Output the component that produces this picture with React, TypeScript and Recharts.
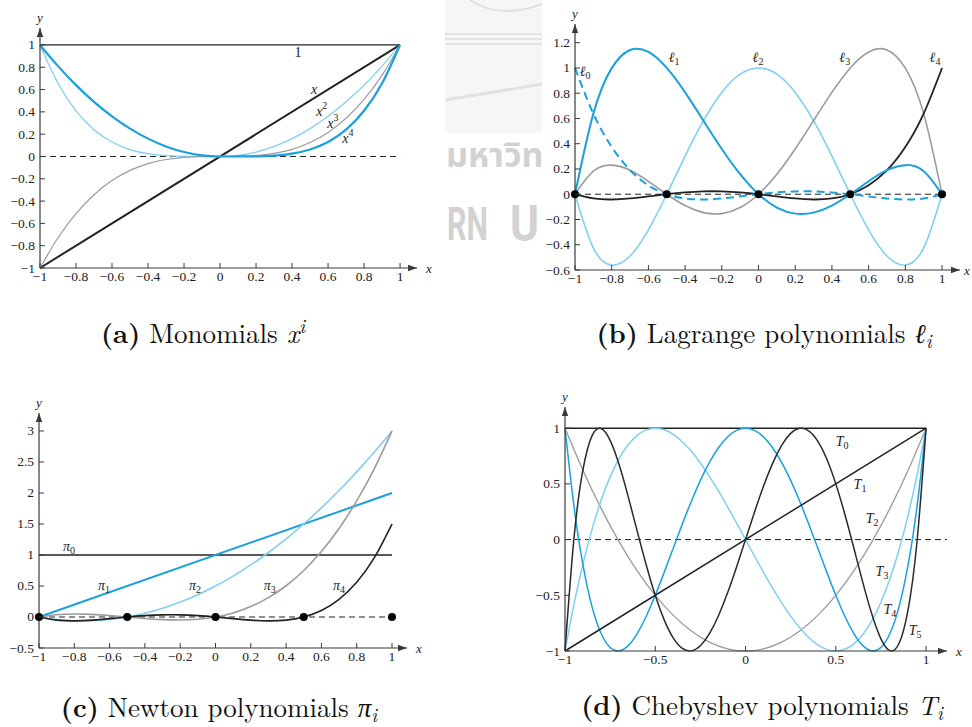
import React from "react";
import { ComposedChart, Line, XAxis, YAxis, ReferenceLine, ReferenceDot } from "recharts";

const SERIF = '"Liberation Serif", "Times New Roman", serif';
const CAPTION_FONT = '"Latin Modern Roman", "Liberation Serif", serif';
const INK = "#222";
const AXIS_INK = "#3a3a3a";
const BLUE = "#1aa0dc";
const LIGHT_BLUE = "#80cff0";
const GRAY = "#9b9b9b";

// Sample abscissae
const X_ENDS = [-1, 1];
const X_TENTHS = [-1, -0.9, -0.8, -0.7, -0.6, -0.5, -0.4, -0.3, -0.2, -0.1, 0, 0.1, 0.2, 0.3, 0.4, 0.5, 0.6, 0.7, 0.8, 0.9, 1];
const X_TWENTIETHS = [
  -1, -0.95, -0.9, -0.85, -0.8, -0.75, -0.7, -0.65, -0.6, -0.55, -0.5, -0.45, -0.4, -0.35, -0.3, -0.25, -0.2, -0.15, -0.1, -0.05,
  0, 0.05, 0.1, 0.15, 0.2, 0.25, 0.3, 0.35, 0.4, 0.45, 0.5, 0.55, 0.6, 0.65, 0.7, 0.75, 0.8, 0.85, 0.9, 0.95, 1,
];

// Tick labels
const TICKS_FIFTHS = [-1, -0.8, -0.6, -0.4, -0.2, 0, 0.2, 0.4, 0.6, 0.8, 1];
const TICKS_HALVES = [-1, -0.5, 0, 0.5, 1];
const TICKS_LAGRANGE_Y = [-0.6, -0.4, -0.2, 0, 0.2, 0.4, 0.6, 0.8, 1, 1.2];
const TICKS_NEWTON_Y = [-0.5, 0, 0.5, 1, 1.5, 2, 2.5, 3];

// (a) Monomials
const MONO_ONE = [1, 1];
const MONO_X = [-1, 1];
const MONO_THICK = [1, 0.81, 0.64, 0.49, 0.36, 0.25, 0.16, 0.09, 0.04, 0.01, 0, 0.0001, 0.0016, 0.0081, 0.0256, 0.0625, 0.1296, 0.2401, 0.4096, 0.6561, 1];
const MONO_THIN = [1, 0.6561, 0.4096, 0.2401, 0.1296, 0.0625, 0.0256, 0.0081, 0.0016, 0.0001, 0, 0.01, 0.04, 0.09, 0.16, 0.25, 0.36, 0.49, 0.64, 0.81, 1];
const MONO_CUBE = [-1, -0.729, -0.512, -0.343, -0.216, -0.125, -0.064, -0.027, -0.008, -0.001, 0, 0.001, 0.008, 0.027, 0.064, 0.125, 0.216, 0.343, 0.512, 0.729, 1];

// (b) Lagrange basis on nodes -1, -0.5, 0, 0.5, 1
const LAG_NODES = [-1, -0.5, 0, 0.5, 1];
const LAG_0 = [1, 0.6384, 0.3744, 0.1904, 0.0704, 0, -0.0336, -0.0416, -0.0336, -0.0176, 0, 0.0144, 0.0224, 0.0224, 0.0144, 0, -0.0176, -0.0336, -0.0416, -0.0336, 0];
const LAG_1 = [0, 0.6384, 0.9984, 1.1424, 1.1264, 1, 0.8064, 0.5824, 0.3584, 0.1584, 0, -0.1056, -0.1536, -0.1456, -0.0896, 0, 0.1024, 0.1904, 0.2304, 0.1824, 0];
const LAG_2 = [0, -0.4256, -0.5616, -0.4896, -0.2816, 0, 0.3024, 0.5824, 0.8064, 0.9504, 1, 0.9504, 0.8064, 0.5824, 0.3024, 0, -0.2816, -0.4896, -0.5616, -0.4256, 0];
const LAG_3 = [0, 0.1824, 0.2304, 0.1904, 0.1024, 0, -0.0896, -0.1456, -0.1536, -0.1056, 0, 0.1584, 0.3584, 0.5824, 0.8064, 1, 1.1264, 1.1424, 0.9984, 0.6384, 0];
const LAG_4 = [0, -0.0336, -0.0416, -0.0336, -0.0176, 0, 0.0144, 0.0224, 0.0224, 0.0144, 0, -0.0176, -0.0336, -0.0416, -0.0336, 0, 0.0704, 0.1904, 0.3744, 0.6384, 1];

// (c) Newton basis
const NEWTON_NODES = [-1, -0.5, 0, 0.5, 1];
const NEWTON_0 = [1, 1];
const NEWTON_1 = [0, 2];
const NEWTON_2 = [0, -0.04, -0.06, -0.06, -0.04, 0, 0.06, 0.14, 0.24, 0.36, 0.5, 0.66, 0.84, 1.04, 1.26, 1.5, 1.76, 2.04, 2.34, 2.66, 3];
const NEWTON_3 = [0, 0.036, 0.048, 0.042, 0.024, 0, -0.024, -0.042, -0.048, -0.036, 0, 0.066, 0.168, 0.312, 0.504, 0.75, 1.056, 1.428, 1.872, 2.394, 3];
const NEWTON_4 = [0, -0.0504, -0.0624, -0.0504, -0.0264, 0, 0.0216, 0.0336, 0.0336, 0.0216, 0, -0.0264, -0.0504, -0.0624, -0.0504, 0, 0.1056, 0.2856, 0.5616, 0.9576, 1.5];

// (d) Chebyshev polynomials
const CHEB_0 = [1, 1];
const CHEB_1 = [-1, 1];
const CHEB_2 = [1, 0.62, 0.28, -0.02, -0.28, -0.5, -0.68, -0.82, -0.92, -0.98, -1, -0.98, -0.92, -0.82, -0.68, -0.5, -0.28, -0.02, 0.28, 0.62, 1];
const CHEB_3 = [
  -1, -0.5795, -0.216, 0.0935, 0.352, 0.5625, 0.728, 0.8515, 0.936, 0.9845, 1, 0.9855, 0.944, 0.8785, 0.792, 0.6875, 0.568, 0.4365, 0.296, 0.1495,
  0, -0.1495, -0.296, -0.4365, -0.568, -0.6875, -0.792, -0.8785, -0.944, -0.9855, -1, -0.9845, -0.936, -0.8515, -0.728, -0.5625, -0.352, -0.0935, 0.216, 0.5795, 1,
];
const CHEB_4 = [
  1, 0.2961, -0.2312, -0.604, -0.8432, -0.9688, -0.9992, -0.952, -0.8432, -0.688, -0.5, -0.292, -0.0752, 0.1401, 0.3448, 0.5313, 0.6928, 0.8241, 0.9208, 0.9801,
  1, 0.9801, 0.9208, 0.8241, 0.6928, 0.5313, 0.3448, 0.1401, -0.0752, -0.292, -0.5, -0.688, -0.8432, -0.952, -0.9992, -0.9688, -0.8432, -0.604, -0.2312, 0.2961, 1,
];
const CHEB_5 = [
  -1, 0.017, 0.6322, 0.9332, 0.9971, 0.8906, 0.6709, 0.386, 0.0758, -0.2278, -0.5, -0.7227, -0.8838, -0.9765, -0.9989, -0.9531, -0.8451, -0.6837, -0.4802, -0.2475,
  0, 0.2475, 0.4802, 0.6837, 0.8451, 0.9531, 0.9989, 0.9765, 0.8838, 0.7227, 0.5, 0.2278, -0.0758, -0.386, -0.6709, -0.8906, -0.9971, -0.9332, -0.6322, -0.017, 1,
];

type Pt = { x: number; y: number };
const toPoints = (xs: number[], ys: number[]): Pt[] => xs.map((x, i) => ({ x, y: ys[i] }));

type Series = { name: string; points: Pt[]; color: string; width: number; dash?: string };
type CurveLabel = { x: number; y: number; base: string; italic?: boolean; sub?: string; sup?: string };

type PanelProps = {
  plotLeft: number;
  plotTop: number;
  plotW: number;
  plotH: number;
  xDomain: [number, number];
  yDomain: [number, number];
  xTicks: number[];
  yTicks: number[];
  zeroTo: number;
  xLabelGap?: number;
  series: Series[];
  labels: CurveLabel[];
  nodes?: number[];
};

const Y_W = 46;
const X_H = 30;
const TOP_PAD = 30;
const RIGHT_PAD = 30;
const TICK_FONT = 13.5;

const fmt = (v: number) => (v < 0 ? "\u2212" + String(Math.abs(v)) : String(v));

const XTick = (props: any) => {
  const { x, y, payload } = props;
  return (
    <g>
      <line x1={x} x2={x} y1={y} y2={y - 5} stroke={AXIS_INK} strokeWidth={1} />
      <text x={x} y={y + 13} textAnchor="middle" fontFamily={SERIF} fontSize={TICK_FONT} fill={INK}>
        {fmt(payload.value)}
      </text>
    </g>
  );
};

const YTick = (props: any) => {
  const { x, y, payload } = props;
  return (
    <g>
      <line x1={x} x2={x + 5} y1={y} y2={y} stroke={AXIS_INK} strokeWidth={1} />
      <text x={x - 5} y={y + 4.5} textAnchor="end" fontFamily={SERIF} fontSize={TICK_FONT} fill={INK}>
        {fmt(payload.value)}
      </text>
    </g>
  );
};

const labelShape = (l: CurveLabel) => (p: any) => (
  <text x={p.cx} y={p.cy} textAnchor="middle" dominantBaseline="central" fontFamily={SERIF} fontSize={14} fill={INK}>
    <tspan fontStyle={l.italic === false ? "normal" : "italic"}>{l.base}</tspan>
    {l.sub ? (
      <tspan fontSize={10} dy={4}>
        {l.sub}
      </tspan>
    ) : null}
    {l.sup ? (
      <tspan fontSize={10} dy={-6}>
        {l.sup}
      </tspan>
    ) : null}
  </text>
);

const makeXArrow = (gap: number) => (p: any) => (
  <g>
    <polygon points={`${p.cx},${p.cy} ${p.cx - 9},${p.cy - 3.2} ${p.cx - 9},${p.cy + 3.2}`} fill={AXIS_INK} />
    <text x={p.cx + gap} y={p.cy} dominantBaseline="central" fontFamily={SERIF} fontStyle="italic" fontSize={13} fill={INK}>
      x
    </text>
  </g>
);

const yArrow = (p: any) => (
  <g>
    <polygon points={`${p.cx},${p.cy} ${p.cx - 3.2},${p.cy + 9} ${p.cx + 3.2},${p.cy + 9}`} fill={AXIS_INK} />
    <text x={p.cx} y={p.cy - 11} textAnchor="middle" dominantBaseline="central" fontFamily={SERIF} fontStyle="italic" fontSize={13} fill={INK}>
      y
    </text>
  </g>
);

function Panel(p: PanelProps) {
  const width = Y_W + p.plotW + RIGHT_PAD;
  const height = TOP_PAD + p.plotH + X_H;
  const [x0, x1] = p.xDomain;
  const [y0, y1] = p.yDomain;
  return (
    <div style={{ position: "absolute", left: p.plotLeft - Y_W, top: p.plotTop - TOP_PAD }}>
      <ComposedChart width={width} height={height} margin={{ top: TOP_PAD, right: RIGHT_PAD, bottom: 0, left: 0 }}>
        <XAxis
          type="number"
          dataKey="x"
          domain={p.xDomain}
          ticks={p.xTicks}
          interval={0}
          height={X_H}
          tickSize={0}
          tickMargin={0}
          tickLine={false}
          tick={<XTick />}
          axisLine={{ stroke: AXIS_INK, strokeWidth: 1.2 }}
        />
        <YAxis
          type="number"
          domain={p.yDomain}
          ticks={p.yTicks}
          interval={0}
          width={Y_W}
          tickSize={0}
          tickMargin={0}
          tickLine={false}
          tick={<YTick />}
          axisLine={{ stroke: AXIS_INK, strokeWidth: 1.2 }}
        />
        <ReferenceLine
          segment={[
            { x: -1, y: 0 },
            { x: p.zeroTo, y: 0 },
          ]}
          stroke={INK}
          strokeWidth={1}
          strokeDasharray="6 4"
          ifOverflow="visible"
        />
        {p.series.map((s) => (
          <Line
            key={s.name}
            name={s.name}
            data={s.points}
            dataKey="y"
            type="natural"
            stroke={s.color}
            strokeWidth={s.width}
            strokeDasharray={s.dash}
            dot={false}
            activeDot={false}
            isAnimationActive={false}
          />
        ))}
        {(p.nodes || []).map((n) => (
          <ReferenceDot key={`node${n}`} x={n} y={0} r={4} fill="#000" stroke="none" ifOverflow="visible" />
        ))}
        {p.labels.map((l, i) => (
          <ReferenceDot key={`lab${i}`} x={l.x} y={l.y} r={1} ifOverflow="visible" shape={labelShape(l)} />
        ))}
        <ReferenceDot x={x1} y={y0} r={1} ifOverflow="visible" shape={makeXArrow(p.xLabelGap ?? 9)} />
        <ReferenceDot x={x0} y={y1} r={1} ifOverflow="visible" shape={yArrow} />
      </ComposedChart>
    </div>
  );
}

const Caption = ({ cx, cy, tag, text, math, script, sub }: { cx: number; cy: number; tag: string; text: string; math: string; script: string; sub: boolean }) => (
  <div
    style={{
      position: "absolute",
      left: cx,
      top: cy - 14,
      height: 28,
      transform: "translateX(-50%)",
      whiteSpace: "nowrap",
      fontFamily: CAPTION_FONT,
      fontSize: 27,
      lineHeight: "28px",
      color: "#111",
    }}
  >
    <b>({tag})</b> {text} <i>{math}</i>
    <span style={{ position: "relative", top: sub ? 5 : -10, fontSize: 19, fontStyle: "italic", lineHeight: "0px" }}>{script}</span>
  </div>
);

const Watermark = () => (
  <svg width={972} height={727} style={{ position: "absolute", left: 0, top: 0 }}>
    <defs>
      <clipPath id="wmclip">
        <rect x={445} y={0} width={97} height={260} />
      </clipPath>
    </defs>
    <g clipPath="url(#wmclip)">
      <rect x={445} y={0} width={97} height={133} fill="#f6f6f6" />
      <path d="M470 0 Q500 20 542 4" stroke="#e0e0e0" strokeWidth={2} fill="none" />
      <line x1={445} x2={542} y1={34} y2={34} stroke="#e4e4e4" strokeWidth={2} />
      <line x1={445} x2={542} y1={39} y2={39} stroke="#e4e4e4" strokeWidth={2} />
      <line x1={445} x2={542} y1={44} y2={44} stroke="#e4e4e4" strokeWidth={2} />
      <path d="M445 100 Q495 92 542 84" stroke="#e2e2e2" strokeWidth={3} fill="none" />
      <text x={446} y={167} fontFamily='"Noto Sans Thai", "Noto Sans", "DejaVu Sans", sans-serif' fontWeight={700} fontSize={34} fill="#d2d2d2">
        มหาวิท
      </text>
      <text x={447} y={240} fontFamily='"Roboto", "Noto Sans", sans-serif' fontWeight={700} fontSize={46} fill="#d2d2d2" textLength={41} lengthAdjust="spacingAndGlyphs">
        RN
      </text>
      <text x={510} y={241} fontFamily='"Roboto", "Noto Sans", sans-serif' fontWeight={700} fontSize={50} fill="#d2d2d2" textLength={29} lengthAdjust="spacingAndGlyphs">
        U
      </text>
    </g>
  </svg>
);

export default function App() {
  const monomials: Series[] = [
    { name: "one", points: toPoints(X_ENDS, MONO_ONE), color: INK, width: 1.3 },
    { name: "x", points: toPoints(X_ENDS, MONO_X), color: INK, width: 2 },
    { name: "thin", points: toPoints(X_TENTHS, MONO_THIN), color: LIGHT_BLUE, width: 1.3 },
    { name: "cube", points: toPoints(X_TENTHS, MONO_CUBE), color: GRAY, width: 1.2 },
    { name: "thick", points: toPoints(X_TENTHS, MONO_THICK), color: BLUE, width: 2.2 },
  ];
  const lagrange: Series[] = [
    { name: "l2", points: toPoints(X_TENTHS, LAG_2), color: LIGHT_BLUE, width: 1.6 },
    { name: "l3", points: toPoints(X_TENTHS, LAG_3), color: GRAY, width: 1.6 },
    { name: "l4", points: toPoints(X_TENTHS, LAG_4), color: INK, width: 1.8 },
    { name: "l1", points: toPoints(X_TENTHS, LAG_1), color: BLUE, width: 2 },
    { name: "l0", points: toPoints(X_TENTHS, LAG_0), color: BLUE, width: 2, dash: "8 5" },
  ];
  const newton: Series[] = [
    { name: "p0", points: toPoints(X_ENDS, NEWTON_0), color: INK, width: 1.6 },
    { name: "p1", points: toPoints(X_ENDS, NEWTON_1), color: BLUE, width: 2 },
    { name: "p2", points: toPoints(X_TENTHS, NEWTON_2), color: LIGHT_BLUE, width: 1.6 },
    { name: "p3", points: toPoints(X_TENTHS, NEWTON_3), color: GRAY, width: 1.6 },
    { name: "p4", points: toPoints(X_TENTHS, NEWTON_4), color: INK, width: 1.6 },
  ];
  const chebyshev: Series[] = [
    { name: "t0", points: toPoints(X_ENDS, CHEB_0), color: INK, width: 1.5 },
    { name: "t2", points: toPoints(X_TENTHS, CHEB_2), color: GRAY, width: 1.3 },
    { name: "t3", points: toPoints(X_TWENTIETHS, CHEB_3), color: LIGHT_BLUE, width: 1.5 },
    { name: "t4", points: toPoints(X_TWENTIETHS, CHEB_4), color: BLUE, width: 1.5 },
    { name: "t5", points: toPoints(X_TWENTIETHS, CHEB_5), color: "#2a2a2a", width: 1.5 },
    { name: "t1", points: toPoints(X_ENDS, CHEB_1), color: INK, width: 1.5 },
  ];

  return (
    <div style={{ position: "absolute", left: 0, top: 0, width: 972, height: 727, overflow: "hidden", background: "#fff" }}>
      <Watermark />
      <Panel
        plotLeft={40}
        plotTop={28}
        plotW={377}
        plotH={240}
        xDomain={[-1, 1.094]}
        yDomain={[-1, 1.152]}
        xTicks={TICKS_FIFTHS}
        yTicks={TICKS_FIFTHS}
        zeroTo={1}
        series={monomials}
        labels={[
          { x: 0.433, y: 0.937, base: "1", italic: false },
          { x: 0.522, y: 0.605, base: "x" },
          { x: 0.565, y: 0.41, base: "x", sup: "2" },
          { x: 0.627, y: 0.3, base: "x", sup: "3" },
          { x: 0.71, y: 0.165, base: "x", sup: "4" },
        ]}
      />
      <Panel
        plotLeft={575}
        plotTop={24}
        plotW={385}
        plotH={246}
        xDomain={[-1, 1.098]}
        yDomain={[-0.6, 1.348]}
        xTicks={TICKS_FIFTHS}
        yTicks={TICKS_LAGRANGE_Y}
        zeroTo={1}
        xLabelGap={4}
        series={lagrange}
        nodes={LAG_NODES}
        labels={[
          { x: -0.945, y: 0.976, base: "\u2113", sub: "0" },
          { x: -0.46, y: 1.087, base: "\u2113", sub: "1" },
          { x: -0.003, y: 1.087, base: "\u2113", sub: "2" },
          { x: 0.47, y: 1.087, base: "\u2113", sub: "3" },
          { x: 0.962, y: 1.087, base: "\u2113", sub: "4" },
        ]}
      />
      <Panel
        plotLeft={39}
        plotTop={413}
        plotW={368}
        plotH={235}
        xDomain={[-1, 1.085]}
        yDomain={[-0.5, 3.29]}
        xTicks={TICKS_FIFTHS}
        yTicks={TICKS_NEWTON_Y}
        zeroTo={1}
        series={newton}
        nodes={NEWTON_NODES}
        labels={[
          { x: -0.83, y: 1.15, base: "\u03c0", sub: "0" },
          { x: -0.632, y: 0.51, base: "\u03c0", sub: "1" },
          { x: -0.116, y: 0.51, base: "\u03c0", sub: "2" },
          { x: 0.308, y: 0.51, base: "\u03c0", sub: "3" },
          { x: 0.7, y: 0.51, base: "\u03c0", sub: "4" },
        ]}
      />
      <Panel
        plotLeft={565}
        plotTop={407}
        plotW={382}
        plotH={244}
        xDomain={[-1, 1.116]}
        yDomain={[-1, 1.19]}
        xTicks={TICKS_HALVES}
        yTicks={TICKS_HALVES}
        zeroTo={1.116}
        series={chebyshev}
        labels={[
          { x: 0.535, y: 0.888, base: "T", sub: "0" },
          { x: 0.634, y: 0.502, base: "T", sub: "1" },
          { x: 0.701, y: 0.197, base: "T", sub: "2" },
          { x: 0.756, y: -0.278, base: "T", sub: "3" },
          { x: 0.8, y: -0.619, base: "T", sub: "4" },
          { x: 0.939, y: -0.816, base: "T", sub: "5" },
        ]}
      />
      <Caption cx={203} cy={332} tag="a" text="Monomials" math="x" script="i" sub={false} />
      <Caption cx={764} cy={332} tag="b" text="Lagrange polynomials" math={"\u2113"} script="i" sub={true} />
      <Caption cx={219} cy={706} tag="c" text="Newton polynomials" math={"\u03c0"} script="i" sub={true} />
      <Caption cx={762} cy={704} tag="d" text="Chebyshev polynomials" math="T" script="i" sub={true} />
    </div>
  );
}
